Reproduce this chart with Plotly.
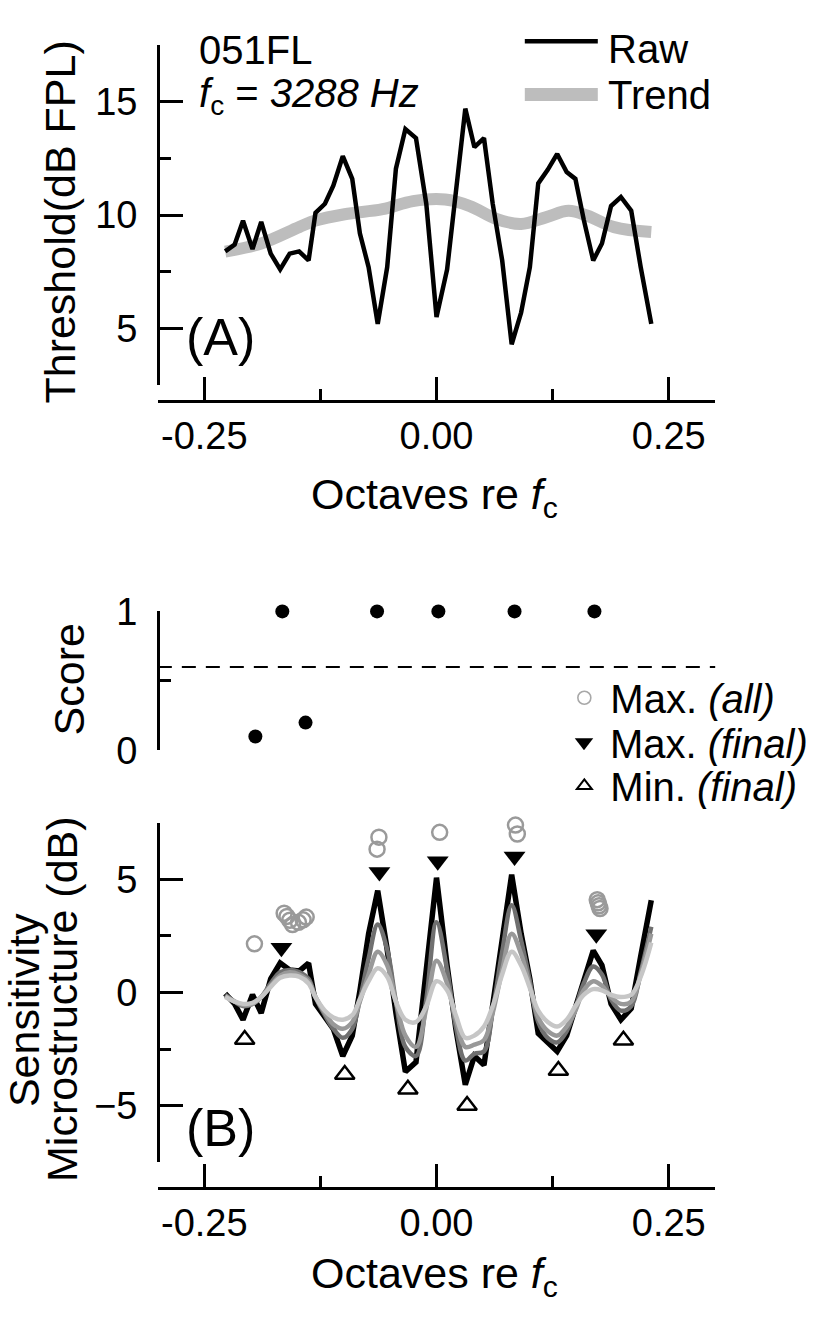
import plotly.graph_objects as go

W, H = 813, 1319
FONT = "Liberation Sans, Arial, sans-serif"


def px(x):
    return x / W


def py(y):
    return 1 - y / H


# ---------------- data ----------------
octaves = [-0.2275, -0.2173, -0.2083, -0.1981, -0.1887, -0.1785, -0.1683, -0.1581,
           -0.1479, -0.1377, -0.1303, -0.1201, -0.1111, -0.1009, -0.0907, -0.0825,
           -0.0731, -0.0633, -0.0531, -0.0437, -0.0335, -0.0221, -0.0110, 0.0000,
           0.0114, 0.0208, 0.0310, 0.0408, 0.0511, 0.0605, 0.0707, 0.0809,
           0.0911, 0.1005, 0.1095, 0.1197, 0.1299, 0.1401, 0.1495, 0.1585,
           0.1687, 0.1781, 0.1879, 0.1985, 0.2096, 0.2198, 0.2312]

raw_threshold = [8.4, 8.7, 9.75, 8.5, 9.7, 8.3, 7.6, 8.3, 8.4, 8.0,
                 10.1, 10.5, 11.3, 12.6, 11.6, 9.2, 7.7, 5.2, 7.7, 12.05,
                 13.8, 13.4, 10.5, 5.5, 7.6, 11.0, 14.7, 13.0, 13.4, 10.5,
                 8.0, 4.3, 5.7, 7.7, 11.4, 12.0, 12.7, 11.9, 11.6, 9.8,
                 8.0, 8.75, 10.4, 10.8, 10.2, 7.7, 5.2]

trend_x = [-0.2275, -0.1887, -0.1479, -0.1303, -0.0989, -0.0580, -0.0253, 0.0094,
           0.0359, 0.0645, 0.0911, 0.1176, 0.1422, 0.1626, 0.1912, 0.2312]
trend_threshold = [8.39, 8.75, 9.47, 9.76, 10.04, 10.26, 10.62, 10.69,
                   10.40, 9.83, 9.61, 9.90, 10.19, 9.97, 9.47, 9.25]

score_x = [-0.195, -0.166, -0.141, -0.064, 0.002, 0.084, 0.170]
score_y = [0.1, 1.0, 0.2, 1.0, 1.0, 1.0, 1.0]
score_criterion = 0.6

micro_raw = [-0.05, -0.5, -1.2, -0.1, -0.9, 0.6, 1.3, 1.0, 0.95, 1.3,
             -0.5, -1.07, -1.6, -2.8, -1.9, 0.07, 2.6, 4.5, 1.9, -0.9,
             -3.5, -3.07, 1.07, 5.07, 1.2, -1.6, -4.07, -2.8, -3.2, -0.5,
             2.2, 5.2, 2.6, 0.6, -1.8, -2.2, -2.6, -1.9, -0.6, 0.6,
             1.85, 1.2, -0.5, -1.2, -0.7, 1.6, 4.07]
micro_smooth1 = [-0.1, -0.4, -0.6, -0.5, -0.2, 0.4, 0.9, 1.0, 0.9, 0.6,
                 -0.2, -1.0, -1.6, -2.0, -1.6, -0.3, 1.5, 3.0, 1.9, -0.4,
                 -2.4, -2.8, -0.3, 3.1, 1.0, -1.5, -3.0, -2.7, -2.6, -0.8,
                 1.8, 3.85, 2.3, 0.5, -1.3, -2.0, -2.2, -1.7, -0.7, 0.4,
                 1.15, 0.8, -0.3, -0.8, -0.6, 0.9, 2.9]
micro_smooth2 = [-0.15, -0.4, -0.55, -0.5, -0.2, 0.3, 0.75, 0.9, 0.8, 0.5,
                 -0.2, -0.9, -1.4, -1.6, -1.3, -0.4, 0.8, 1.8, 1.2, -0.4,
                 -1.9, -2.4, -0.7, 1.4, 0.4, -1.2, -2.4, -2.3, -2.1, -0.9,
                 1.0, 2.6, 1.7, 0.3, -1.1, -1.7, -1.9, -1.5, -0.8, 0.1,
                 0.5, 0.3, -0.2, -0.5, -0.4, 0.8, 2.6]
micro_smooth3 = [-0.2, -0.4, -0.5, -0.45, -0.2, 0.25, 0.65, 0.75, 0.7, 0.4,
                 -0.2, -0.8, -1.1, -1.2, -1.0, -0.3, 0.5, 1.07, 0.7, -0.4,
                 -1.2, -1.3, -0.6, 0.5, 0.1, -1.0, -2.0, -1.9, -1.5, -0.6,
                 0.8, 1.8, 1.2, 0.2, -0.8, -1.3, -1.5, -1.2, -0.6, -0.1,
                 0.15, 0.1, -0.1, -0.2, -0.1, 0.7, 2.2]

max_all_x = [-0.196, -0.164, -0.161, -0.158, -0.155, -0.1486, -0.1436, -0.1403,
             -0.064, -0.062, 0.0034, 0.085, 0.087, 0.173, 0.174, 0.175, 0.176]
max_all_y = [2.15, 3.5, 3.36, 3.19, 3.0, 3.1, 3.21, 3.33,
             6.33, 6.86, 7.07, 7.39, 7.0, 4.1, 3.96, 3.83, 3.71]

max_final_x = [-0.167, -0.0615, 0.0013, 0.084, 0.172]
max_final_y = [1.98, 5.32, 5.79, 6.0, 2.57]

min_final_x = [-0.2065, -0.0988, -0.0308, 0.0329, 0.1312, 0.2012]
min_final_y = [-2.07, -3.62, -4.27, -4.99, -3.44, -2.11]

x_tickvals = [-0.25, 0.0, 0.25]
x_ticktext = ["-0.25", "0.00", "0.25"]

# ---------------- figure ----------------
fig = go.Figure()

fig.add_trace(go.Scatter(x=trend_x, y=trend_threshold, mode="lines",
                         line=dict(color="#bdbdbd", width=12, shape="spline"),
                         xaxis="x", yaxis="y", showlegend=False, name="Trend"))
fig.add_trace(go.Scatter(x=octaves, y=raw_threshold, mode="lines",
                         line=dict(color="black", width=4.5),
                         xaxis="x", yaxis="y", showlegend=False, name="Raw"))

fig.add_trace(go.Scatter(x=score_x, y=score_y, mode="markers",
                         marker=dict(color="black", size=14),
                         xaxis="x2", yaxis="y2", showlegend=False, cliponaxis=False))

fig.add_trace(go.Scatter(x=octaves, y=micro_raw, mode="lines",
                         line=dict(color="black", width=5.5),
                         xaxis="x3", yaxis="y3", showlegend=False))
for vals, col in [(micro_smooth1, "#707070"), (micro_smooth2, "#999999"),
                  (micro_smooth3, "#c6c6c6")]:
    fig.add_trace(go.Scatter(x=octaves, y=vals, mode="lines",
                             line=dict(color=col, width=4.5, shape="spline"),
                             xaxis="x3", yaxis="y3", showlegend=False))

fig.add_trace(go.Scatter(x=max_all_x, y=max_all_y, mode="markers",
                         marker=dict(symbol="circle-open", size=15, color="#9a9a9a",
                                     line=dict(width=2.5, color="#9a9a9a")),
                         xaxis="x3", yaxis="y3", cliponaxis=False, showlegend=False))
fig.add_trace(go.Scatter(x=max_final_x, y=max_final_y, mode="markers",
                         marker=dict(symbol="triangle-down", size=19, color="black"),
                         xaxis="x3", yaxis="y3", cliponaxis=False, showlegend=False))
fig.add_trace(go.Scatter(x=min_final_x, y=min_final_y, mode="markers",
                         marker=dict(symbol="triangle-up-open", size=17, color="black",
                                     line=dict(width=2.5, color="black")),
                         xaxis="x3", yaxis="y3", cliponaxis=False, showlegend=False))

# legend entries (legend-only proxies, styled as in the reference key)
fig.add_trace(go.Scatter(x=[None], y=[None], mode="markers", xaxis="x3", yaxis="y3",
                         marker=dict(symbol="circle-open", size=13, color="#a8a8a8",
                                     line=dict(width=1.6, color="#a8a8a8")),
                         name="Max. <i>(all)</i>", legend="legend"))
fig.add_trace(go.Scatter(x=[None], y=[None], mode="markers", xaxis="x3", yaxis="y3",
                         marker=dict(symbol="triangle-down", size=16, color="black"),
                         name="Max. <i>(final)</i>", legend="legend2"))
fig.add_trace(go.Scatter(x=[None], y=[None], mode="markers", xaxis="x3", yaxis="y3",
                         marker=dict(symbol="triangle-up-open", size=13, color="black",
                                     line=dict(width=2, color="black")),
                         name="Min. <i>(final)</i>", legend="legend3"))

xdom = [px(160), px(725)]
xcommon = dict(range=[-0.3, 0.3], domain=xdom, showgrid=False, zeroline=False,
               showline=True, linecolor="black", linewidth=2.5,
               ticks="inside", ticklen=23, tickwidth=2.5, tickcolor="black",
               tickvals=x_tickvals, ticktext=x_ticktext,
               minor=dict(tickvals=[-0.125, 0.125], ticks="inside", ticklen=11,
                          tickwidth=2.5, tickcolor="black"),
               tickfont=dict(size=38, color="black", family=FONT),
               ticklabelstandoff=1, anchor="free")
ycommon = dict(showgrid=False, zeroline=False, showline=True, linecolor="black",
               linewidth=2.5, ticks="inside", ticklen=23, tickwidth=2.5,
               tickcolor="black", tickfont=dict(size=38, color="black", family=FONT),
               ticklabelstandoff=12, anchor="free", position=px(160))

fig.update_layout(
    width=W, height=H, margin=dict(l=0, r=0, t=0, b=0),
    paper_bgcolor="white", plot_bgcolor="white",
    font=dict(family=FONT, color="black", size=38),
    xaxis=dict(xcommon, position=py(392)),
    xaxis2=dict(range=[-0.3, 0.3], domain=xdom, visible=False, anchor="y2"),
    xaxis3=dict(xcommon, position=py(1205)),
    yaxis=dict(ycommon, domain=[py(376), py(25)], range=[2.5, 17.5],
               tickvals=[5, 10, 15],
               minor=dict(tickvals=[2.5, 7.5, 12.5, 17.5], ticks="inside",
                          ticklen=11, tickwidth=2.5, tickcolor="black")),
    yaxis2=dict(ycommon, domain=[py(753.4), py(609.8)], range=[0, 1],
                tickvals=[0, 1],
                minor=dict(tickvals=[0.5], ticks="inside", ticklen=11,
                           tickwidth=2.5, tickcolor="black")),
    yaxis3=dict(ycommon, domain=[py(1179), py(828)], range=[-7.5, 7.5],
                tickvals=[-5, 0, 5],
                minor=dict(tickvals=[-7.5, -2.5, 2.5, 7.5], ticks="inside",
                           ticklen=11, tickwidth=2.5, tickcolor="black")),
)

leg = dict(xanchor="left", yanchor="middle", bgcolor="rgba(0,0,0,0)",
           font=dict(size=40, family=FONT, color="black"), itemsizing="trace",
           itemwidth=42, borderwidth=0)
fig.update_layout(
    legend=dict(leg, x=px(566), y=py(699)),
    legend2=dict(leg, x=px(566), y=py(745)),
    legend3=dict(leg, x=px(566), y=py(790)),
)

# criterion line in score panel
fig.add_shape(type="line", xref="x2 domain", x0=0, x1=1, yref="y2",
              y0=score_criterion, y1=score_criterion,
              line=dict(color="black", width=2.2, dash="14px,10px"))

# top legend (manual)
fig.add_shape(type="line", xref="paper", yref="paper", x0=px(532), x1=px(606),
              y0=py(21), y1=py(21), line=dict(color="black", width=4.5))
fig.add_shape(type="line", xref="paper", yref="paper", x0=px(532), x1=px(606),
              y0=py(76), y1=py(76), line=dict(color="#bdbdbd", width=13))


def ann(text, x, y, size, xanchor="left", angle=0):
    fig.add_annotation(text=text, x=px(x), y=py(y), xref="paper", yref="paper",
                       xanchor=xanchor, yanchor="middle", showarrow=False,
                       textangle=angle, font=dict(size=size, family=FONT, color="black"))


ann("Raw", 614, 29, 40)
ann("Trend", 614, 76, 40)
ann("051FL", 200, 30, 40)
ann("<i>f</i><sub>c</sub> = <i>3288 Hz</i>", 200, 77, 40)
ann("(A)", 187, 326, 52)
ann("(B)", 187, 1143, 52)

ann("Octaves re <i>f</i><sub>c</sub>", 440, 492, 43, xanchor="center")
ann("Octaves re <i>f</i><sub>c</sub>", 440, 1296, 43, xanchor="center")
ann("Threshold(dB FPL)", 61, 208, 43, xanchor="center", angle=-90)
ann("Score", 70, 680, 43, xanchor="center", angle=-90)
ann("Sensitivity", 25, 1022, 43, xanchor="center", angle=-90)
ann("Microstructure (dB)", 63, 1010, 43, xanchor="center", angle=-90)

fig.write_html("out.html", config={"displayModeBar": False},
               post_script="document.body.style.margin='0px';"
                           "document.body.style.overflow='hidden';")
